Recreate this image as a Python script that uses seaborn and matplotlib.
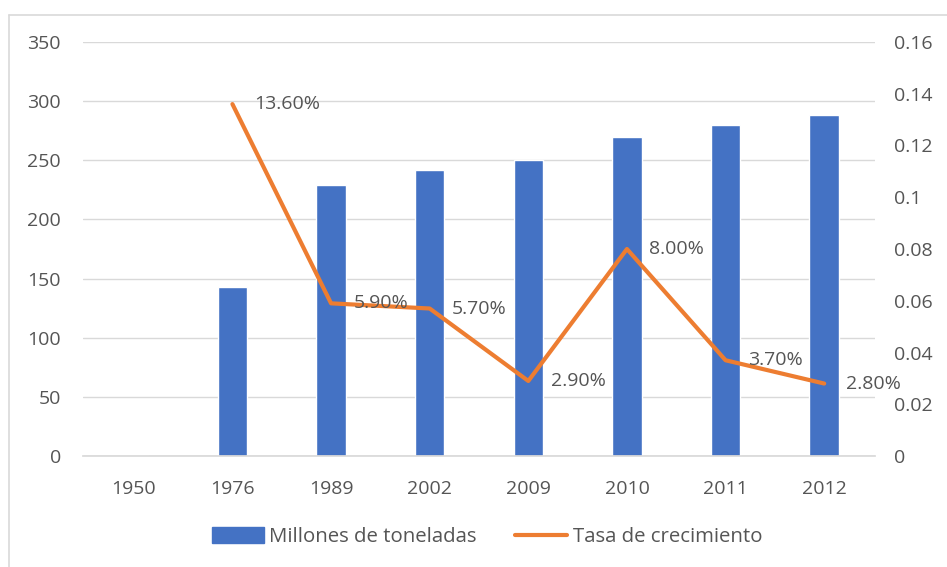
import numpy as np
import pandas as pd
import matplotlib
matplotlib.use("Agg")
import matplotlib.pyplot as plt
import seaborn as sns
from matplotlib.patches import Patch
from matplotlib.lines import Line2D

years = ["1950", "1976", "1989", "2002", "2009", "2010", "2011", "2012"]
toneladas = [0, 143, 229, 242, 250, 270, 280, 288]
tasa = [np.nan, 0.136, 0.059, 0.057, 0.029, 0.080, 0.037, 0.028]
tasa_labels = ["", "13.60%", "5.90%", "5.70%", "2.90%", "8.00%", "3.70%", "2.80%"]
left_ticks = [0, 50, 100, 150, 200, 250, 300, 350]
right_ticks = [0, 0.02, 0.04, 0.06, 0.08, 0.10, 0.12, 0.14, 0.16]
right_tick_labels = ["0", "0.02", "0.04", "0.06", "0.08", "0.1", "0.12", "0.14", "0.16"]

BLUE = "#4472C4"
ORANGE = "#ED7D31"
TXT = "#555555"
GRID = "#D9D9D9"
FS = 14

sns.set_theme(style="white")
plt.rcParams["font.family"] = ["Open Sans", "DejaVu Sans"]

df = pd.DataFrame({"year": years, "toneladas": toneladas, "tasa": tasa,
                   "pos": np.arange(len(years))})

fig = plt.figure(figsize=(9.47, 5.67), dpi=100)
ax = fig.add_axes([83 / 947, 1 - 456 / 567, (875 - 83) / 947, (456 - 42) / 567])

sns.barplot(data=df, x="year", y="toneladas", color=BLUE, width=0.30,
            saturation=1, ax=ax, order=years)
ax.set_ylim(0, 350)
ax.set_yticks(left_ticks)
ax.yaxis.grid(True, color=GRID, linewidth=1)
ax.set_axisbelow(True)
ax.set_xlabel("")
ax.set_ylabel("")
for s in ax.spines.values():
    s.set_visible(False)
ax.spines["bottom"].set_visible(True)
ax.spines["bottom"].set_color(GRID)
ax.tick_params(axis="y", length=0, pad=16, labelsize=FS, labelcolor=TXT)
ax.tick_params(axis="x", length=0, pad=17, labelsize=FS, labelcolor=TXT)

ax2 = ax.twinx()
sns.lineplot(data=df, x="pos", y="tasa", color=ORANGE, linewidth=3.0, ax=ax2)
ax2.set_ylim(0, 0.16)
ax2.set_yticks(right_ticks)
ax2.set_yticklabels(right_tick_labels)
ax2.set_ylabel("")
ax2.set_xlabel("")
for s in ax2.spines.values():
    s.set_visible(False)
ax2.tick_params(axis="y", length=0, pad=14, labelsize=FS, labelcolor=TXT)
ax2.grid(False)
ax2.set_xlim(ax.get_xlim())

for i, (v, lab) in enumerate(zip(tasa, tasa_labels)):
    if lab:
        ax2.annotate(lab, (i, v), xytext=(16, 0), textcoords="offset points",
                     va="center", ha="left", fontsize=FS, color=TXT)

handles = [Patch(facecolor=BLUE, edgecolor=BLUE),
           Line2D([0], [0], color=ORANGE, linewidth=3.0)]
fig.legend(handles, ["Millones de toneladas", "Tasa de crecimiento"],
           loc="center", bbox_to_anchor=(487 / 947, 1 - 537 / 567), ncol=2,
           frameon=False, fontsize=14.7, labelcolor=TXT, handlelength=2.55,
           handleheight=0.8, handletextpad=0.25, columnspacing=1.9)

fig.add_artist(Line2D([9 / 947, 9 / 947], [0, 1 - 15 / 567],
                      transform=fig.transFigure, color=GRID, linewidth=1.2))
fig.add_artist(Line2D([9 / 947, 1], [1 - 15 / 567, 1 - 15 / 567],
                      transform=fig.transFigure, color=GRID, linewidth=1.2))

fig.savefig("out.png", dpi=100)
